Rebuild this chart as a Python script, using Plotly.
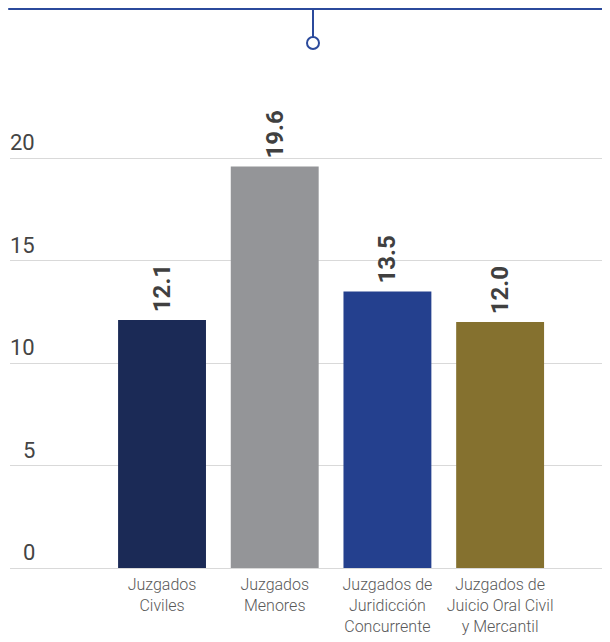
import plotly.graph_objects as go

# data
categories = ["Juzgados<br>Civiles", "Juzgados<br>Menores",
              "Juzgados de<br>Juridicción<br>Concurrente",
              "Juzgados de<br>Juicio Oral Civil<br>y Mercantil"]
values = [12.1, 19.6, 13.5, 12.0]
bar_colors = ["#1b2a56", "#949598", "#24408e", "#85712f"]
y_ticks = [0, 5, 10, 15, 20]

fig = go.Figure()

fig.add_trace(go.Bar(
    x=list(range(len(categories))),
    y=values,
    width=0.78,
    marker=dict(color=bar_colors, line=dict(width=0)),
    # thin leading space so the rotated labels float a bit above the bars
    texttemplate="\u2009%{y:.1f}",
    textposition="outside",
    textangle=-90,
    textfont=dict(family="Roboto", size=24, color="#404040", weight="bold"),
    cliponaxis=False,
    hoverinfo="skip",
))

# y tick labels sit above the gridlines, right aligned near the left edge
for t in y_ticks:
    fig.add_annotation(
        x=0.045, xref="paper", y=t, yref="y",
        text=str(t), showarrow=False,
        xanchor="right", yanchor="bottom", yshift=1,
        font=dict(family="Roboto", size=22, color="#444444"),
    )

# decoration at the top: line, stem and small circle
line_col = "#2b4a9c"
fig.add_shape(type="line", xref="paper", yref="paper",
              x0=-0.003, x1=1.0, y0=1.1135, y1=1.1135,
              line=dict(color=line_col, width=2))
fig.add_shape(type="line", xref="paper", yref="paper",
              x0=0.505, x1=0.505, y0=1.1135, y1=1.058,
              line=dict(color=line_col, width=2))
fig.add_shape(type="circle", xref="paper", yref="paper",
              xsizemode="pixel", ysizemode="pixel",
              xanchor=0.505, yanchor=1.0458,
              x0=-6, x1=6, y0=-6, y1=6,
              line=dict(color=line_col, width=2), fillcolor="white")

# page body adds an 8px margin, so the figure is 8px smaller each way
fig.update_layout(
    width=602,
    height=634,
    margin=dict(l=2, r=0, t=58, b=74),
    plot_bgcolor="white",
    paper_bgcolor="white",
    showlegend=False,
    xaxis=dict(
        range=[-1.349, 3.975],
        tickmode="array",
        tickvals=list(range(len(categories))),
        ticktext=categories,
        tickfont=dict(family="Roboto", size=16, color="#595959", weight=300),
        ticklabelstandoff=5,
        showgrid=False,
        showline=False,
        zeroline=False,
        ticks="",
    ),
    yaxis=dict(
        range=[0, 24.5],
        tickvals=y_ticks,
        showticklabels=False,
        showgrid=True,
        gridcolor="#d9d9d9",
        gridwidth=1,
        zeroline=True,
        zerolinecolor="#d9d9d9",
        zerolinewidth=1,
        showline=False,
        ticks="",
    ),
)

fig.write_html("out.html")
